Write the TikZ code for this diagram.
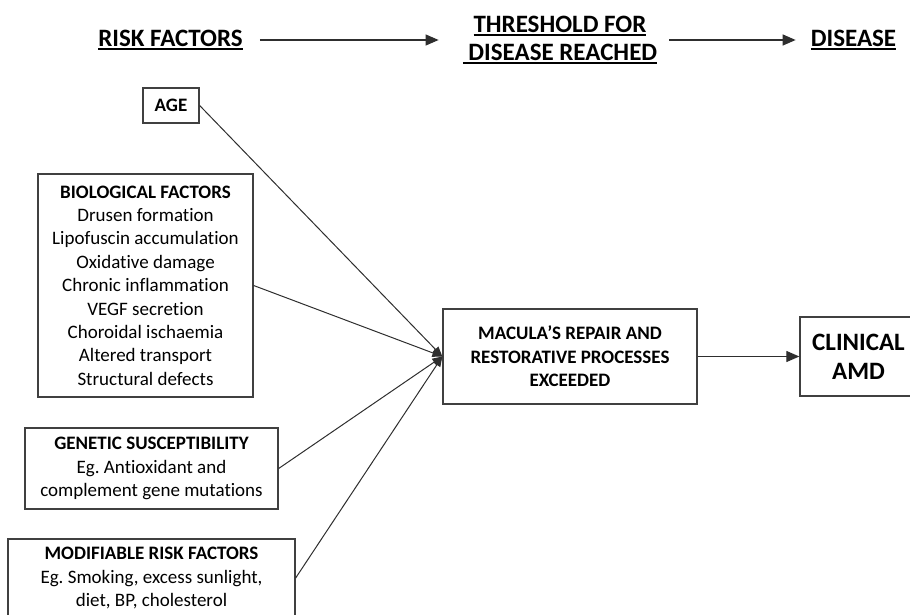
\documentclass[tikz,border=0pt]{standalone}
\usepackage{fontspec}
\setmainfont{Carlito}[Ligatures=NoCommon]
\usetikzlibrary{arrows.meta}
\definecolor{boxgray}{HTML}{404040}
\definecolor{linegray}{HTML}{2E2E2E}
\newcommand{\boxtext}{\fontsize{19}{23.4}\selectfont}
\newcommand{\hdrtext}{\fontsize{25}{28}\selectfont\bfseries}
\newcommand{\undl}[1]{\setbox0\hbox{#1}\rlap{\rule[-3.5pt]{\wd0}{1.6pt}}\box0}
\tikzset{>={Triangle[length=13pt,width=11pt]}}

\begin{document}
\begin{tikzpicture}[x=1pt, y=-1pt,
    box/.style={draw=boxgray, line width=1.3pt, inner sep=0pt, align=center, font=\boxtext},
    hdr/.style={inner sep=0pt, align=center, font=\hdrtext},
    link/.style={draw=linegray, line width=1pt, -{Triangle[length=10pt,width=8pt]}}]
    \useasboundingbox (0,0) rectangle (910,615);
    % header row
    \node[hdr] (risk) at (170.5,40) {\undl{RISK FACTORS}};
    \node[hdr] (thresh) at (560,40) {\undl{THRESHOLD FOR}\\\undl{~DISEASE REACHED}};
    \node[hdr] (disease) at (853.5,40) {\undl{DISEASE}};
    \draw[linegray, line width=1.2pt, ->, shorten <=17pt, shorten >=24pt] (risk) -- (thresh);
    \draw[linegray, line width=1.2pt, ->, shorten <=12pt, shorten >=15pt] (thresh) -- (disease);
    % risk factor boxes
    \node[box, minimum width=56, minimum height=35] (age) at (171,105.5) {\textbf{AGE}};
    \node[box, minimum width=215, minimum height=223] (bio) at (145.5,285.5)
        {\textbf{BIOLOGICAL FACTORS}\\Drusen formation\\Lipofuscin accumulation\\Oxidative damage\\
         Chronic inflammation\\VEGF secretion\\Choroidal ischaemia\\Altered transport\\Structural defects};
    \node[box, minimum width=253, minimum height=81] (gen) at (151.5,468.5)
        {\textbf{GENETIC SUSCEPTIBILITY}\\Eg.\ Antioxidant and\\complement gene mutations};
    \node[box, minimum width=287, minimum height=78] (modif) at (151.5,578)
        {\textbf{MODIFIABLE RISK FACTORS}\\Eg.\ Smoking, excess sunlight,\\diet, BP, cholesterol};
    % outcome boxes
    \node[box, font=\boxtext\bfseries, minimum width=254, minimum height=95] (macula) at (570,356.5)
        {MACULA’S REPAIR AND\\RESTORATIVE PROCESSES\\EXCEEDED};
    \node[box, font=\fontsize{25}{29}\selectfont\bfseries, minimum width=117, minimum height=79] (clin) at (858.5,356.5)
        {CLINICAL\\AMD};
    % connectors
    \draw[link] (age.east) -- (macula.west);
    \draw[link] (bio.east) -- (macula.west);
    \draw[link] (gen.east) -- (macula.west);
    \draw[link] (modif.east) -- (macula.west);
    \draw[linegray, line width=1.2pt, ->] (macula) -- (clin);
\end{tikzpicture}
\end{document}
